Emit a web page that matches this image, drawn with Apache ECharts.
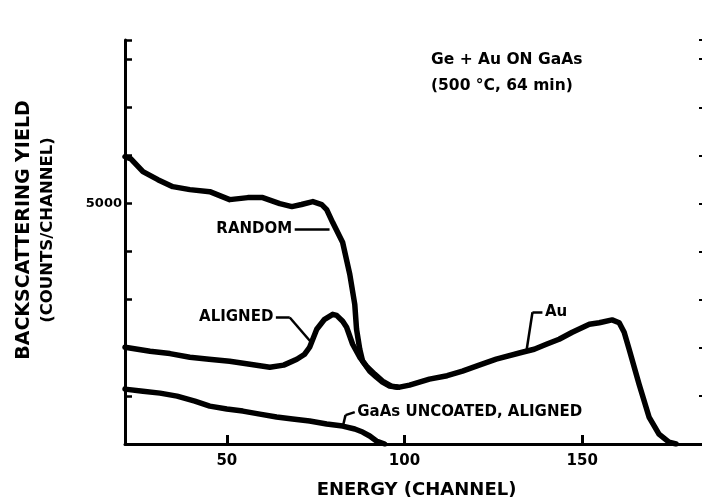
<!DOCTYPE html>
<html>
<head>
<meta charset="utf-8">
<script src="https://cdn.jsdelivr.net/npm/echarts@6/dist/echarts.min.js"></script>
<style>
  html, body { margin: 0; padding: 0; background: #fff; }
  #chart { width: 702px; height: 504px; }
</style>
</head>
<body>
<div id="chart"></div>
<script>
// RBS spectra: Ge + Au on GaAs, 500 °C / 64 min
const xTicks = [50, 100, 150];
const yLabelTicks = [5000];

const randomChannel = [21.35, 23.0, 26.4, 30.6, 34.8, 39.6, 45.2, 50.8, 55.9, 60.1, 64.9, 68.3, 71.0, 74.2, 76.7, 78.1, 79.8, 82.6, 84.6, 86.0, 86.5, 87.4, 88.2, 90.2, 92.1, 93.8, 95.8, 98.0];
const randomCounts  = [5973, 5930, 5662, 5496, 5351, 5289, 5247, 5081, 5123, 5123, 4998, 4936, 4980, 5040, 4978, 4874, 4604, 4189, 3526, 2904, 2385, 1970, 1721, 1514, 1390, 1286, 1203, 1182];

const alignedChannel = [21.35, 28.4, 34.0, 39.6, 45.0, 50.8, 56.5, 62.1, 66.0, 69.7, 71.9, 73.3, 75.3, 77.5, 79.8, 80.9, 82.6, 83.7, 85.4, 87.4, 89.3, 91.6, 93.8, 96.3, 98.6, 101.4, 107.0, 112.0, 116.3, 121.0, 125.8, 133.1, 136.5, 139.9, 143.5, 147.2, 152.0, 154.8, 158.4, 160.4, 161.8, 163.2, 166.0, 168.8, 171.6, 174.4, 176.4];
const alignedCounts  = [2012, 1929, 1880, 1804, 1760, 1721, 1659, 1597, 1640, 1763, 1867, 2012, 2385, 2593, 2696, 2675, 2551, 2427, 2074, 1804, 1618, 1452, 1307, 1203, 1182, 1224, 1348, 1420, 1514, 1640, 1763, 1908, 1970, 2074, 2178, 2323, 2489, 2520, 2580, 2520, 2323, 1970, 1244, 560, 207, 41, 0];

const uncoatedChannel = [21.35, 26.4, 31.2, 36.0, 41.0, 45.2, 50.0, 54.5, 59.3, 64.0, 68.5, 73.3, 78.1, 82.6, 86.0, 88.2, 90.2, 92.1, 94.4];
const uncoatedCounts  = [1141, 1099, 1058, 996, 892, 788, 726, 684, 622, 560, 518, 477, 415, 373, 311, 249, 166, 62, 0];

// Curve annotations: leader-line vertices in data units (channel, counts)
const randomLeader   = [[69.1, 4459], [78.9, 4459]];
const alignedLeader  = [[63.8, 2630], [67.7, 2630], [74.2, 2074]];
const auLeader       = [[134.3, 1929], [136.0, 2738], [138.8, 2738]];
const uncoatedLeader = [[82.6, 353], [83.4, 600], [86.0, 664]];

const zip = (xs, ys) => xs.map((x, i) => [x, ys[i]]);
const FONT = 'DejaVu Sans';

function leaderLines(pts) {
  const segs = [];
  for (let i = 0; i < pts.length - 1; i++) {
    segs.push([{ coord: pts[i] }, { coord: pts[i + 1] }]);
  }
  return segs;
}

function annotation(pts, text, side) {
  const anchor = side === 'left' ? pts[0] : pts[pts.length - 1];
  return {
    type: 'line',
    data: [],
    silent: true,
    markLine: {
      symbol: 'none',
      silent: true,
      animation: false,
      label: { show: false },
      lineStyle: { color: '#000', width: 2.5, type: 'solid' },
      data: leaderLines(pts)
    },
    markPoint: {
      symbol: 'circle',
      symbolSize: 1,
      silent: true,
      animation: false,
      itemStyle: { color: 'rgba(0,0,0,0)' },
      label: {
        show: true,
        formatter: text,
        position: side === 'left' ? 'left' : 'right',
        distance: 2,
        color: '#000',
        fontFamily: FONT,
        fontWeight: 'bold',
        fontSize: 15
      },
      data: [{ coord: anchor }]
    }
  };
}

const curveStyle = { color: '#000', width: 5.5, cap: 'round', join: 'round' };

const chart = echarts.init(document.getElementById('chart'), null, { renderer: 'canvas' });
chart.setOption({
  backgroundColor: '#fff',
  animation: false,
  textStyle: { fontFamily: FONT },
  grid: { left: 125, right: -1, top: 40, bottom: 59, containLabel: false },
  title: {
    text: 'Ge + Au ON GaAs\n(500 °C, 64 min)',
    left: 426,
    top: 42,
    textStyle: { fontFamily: FONT, fontWeight: 'bold', fontSize: 15.5, lineHeight: 26, color: '#000' }
  },
  xAxis: [{
    type: 'value',
    min: 21.35,
    max: 183.7,
    name: 'ENERGY (CHANNEL)',
    nameLocation: 'middle',
    nameGap: 37,
    nameTextStyle: { fontFamily: FONT, fontWeight: 'bold', fontSize: 18, color: '#000', padding: [0, 0, 0, 6] },
    axisLine: { show: true, onZero: false, lineStyle: { color: '#000', width: 3 } },
    axisTick: { show: true, inside: true, length: 9, customValues: xTicks, lineStyle: { color: '#000', width: 3 } },
    axisLabel: { show: true, customValues: xTicks, color: '#000', fontFamily: FONT, fontWeight: 'bold', fontSize: 15, margin: 10 },
    splitLine: { show: false }
  }],
  yAxis: [{
    type: 'value',
    min: 0,
    max: 8400,
    interval: 1000,
    name: '{a|BACKSCATTERING YIELD}\n{b|(COUNTS/CHANNEL)}',
    nameLocation: 'middle',
    nameGap: 66,
    nameRotate: 90,
    nameTextStyle: {
      color: '#000',
      padding: [0, 0, 0, 24],
      rich: {
        a: { fontFamily: FONT, fontWeight: 'bold', fontSize: 19, lineHeight: 23, color: '#000' },
        b: { fontFamily: FONT, fontWeight: 'bold', fontSize: 16.5, lineHeight: 23, color: '#000' }
      }
    },
    axisLine: { show: true, onZero: false, lineStyle: { color: '#000', width: 3 } },
    axisTick: { show: true, inside: true, length: 7, lineStyle: { color: '#000', width: 2.5 } },
    axisLabel: {
      show: true,
      customValues: yLabelTicks,
      formatter: v => String(v),
      color: '#000', fontFamily: FONT, fontWeight: 'bold', fontSize: 13, margin: 3
    },
    splitLine: { show: false }
  }, {
    type: 'value',
    position: 'right',
    min: 0,
    max: 8400,
    interval: 1000,
    axisLine: { show: false },
    axisTick: { show: true, inside: true, length: 3, lineStyle: { color: '#000', width: 2 } },
    axisLabel: { show: false },
    splitLine: { show: false }
  }],
  series: [
    { name: 'RANDOM', type: 'line', data: zip(randomChannel, randomCounts), showSymbol: false, symbol: 'none', lineStyle: curveStyle },
    { name: 'ALIGNED', type: 'line', data: zip(alignedChannel, alignedCounts), showSymbol: false, symbol: 'none', lineStyle: curveStyle },
    { name: 'GaAs UNCOATED, ALIGNED', type: 'line', data: zip(uncoatedChannel, uncoatedCounts), showSymbol: false, symbol: 'none', lineStyle: curveStyle },
    annotation(randomLeader, 'RANDOM', 'left'),
    annotation(alignedLeader, 'ALIGNED', 'left'),
    annotation(auLeader, 'Au', 'right'),
    annotation(uncoatedLeader, 'GaAs UNCOATED, ALIGNED', 'right')
  ]
});
</script>
</body>
</html>
